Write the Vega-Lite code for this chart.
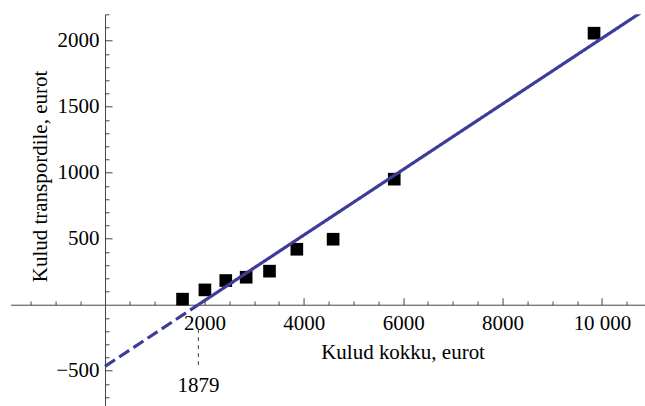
{
  "$schema": "https://vega.github.io/schema/vega-lite/v6.json",
  "width": 634.67,
  "height": 392.04,
  "autosize": "none",
  "padding": {"left": 10.57, "top": 14.3, "right": 0, "bottom": 0},
  "config": {
    "view": {"stroke": null},
    "font": "Liberation Serif",
    "axis": {"grid": false, "labelFlush": false, "labelOverlap": false, "labelBound": false, "tickColor": "#444", "domainColor": "#444", "labelColor": "black", "titleColor": "black", "titleFontWeight": "normal", "labelFont": "Liberation Serif", "titleFont": "Liberation Serif"}
  },
  "layer": [
    {
      "data": {"values": [
        {"kokku": 1560, "transport": 42},
        {"kokku": 2010, "transport": 112},
        {"kokku": 2430, "transport": 183},
        {"kokku": 2840, "transport": 208},
        {"kokku": 3310, "transport": 254},
        {"kokku": 3860, "transport": 420},
        {"kokku": 4590, "transport": 496},
        {"kokku": 5820, "transport": 951},
        {"kokku": 9840, "transport": 2057}
      ]},
      "mark": {"type": "point", "shape": "square", "filled": true, "size": 160, "color": "black", "opacity": 1},
      "encoding": {
        "x": {"field": "kokku", "type": "quantitative",
          "scale": {"domain": [-1900, 10870], "nice": false, "zero": false},
          "axis": {"orient": "bottom", "offset": -101.6, "values": [2000, 4000, 6000, 8000, 10000], "format": "d",
            "labelExpr": "datum.value == 10000 ? '10 000' : datum.label",
            "tickSize": -7, "labelPadding": 14.6, "labelFontSize": 21, "labelFont": "Liberation Serif", "domain": true,
            "title": "Kulud kokku, eurot", "titleFont": "Liberation Serif", "titleFontSize": 21, "titleX": 392, "titleY": 53.3, "titleBaseline": "alphabetic", "titleAlign": "center"}},
        "y": {"field": "transport", "type": "quantitative",
          "scale": {"domain": [-770, 2200], "nice": false, "zero": false},
          "axis": {"orient": "left", "offset": -94.43, "values": [-500, 500, 1000, 1500, 2000], "format": "d",
            "tickSize": -7, "labelPadding": 13, "labelFontSize": 21, "labelFont": "Liberation Serif", "domain": true,
            "title": "Kulud transpordile, eurot", "titleFont": "Liberation Serif", "titleFontSize": 21, "titleX": -59, "titleY": 161.7, "titleAngle": 270, "titleBaseline": "alphabetic", "titleAlign": "center"}}
      }
    },
    {
      "data": {"values": [
        {"x": 0, "y": -467, "seg": "extrapolation"},
        {"x": 1879, "y": 0, "seg": "extrapolation"},
        {"x": 1879, "y": 0, "seg": "fit"},
        {"x": 10870, "y": 2234.6, "seg": "fit"}
      ]},
      "mark": {"type": "line", "clip": true, "strokeWidth": 3.2, "color": "#3d3d99"},
      "encoding": {
        "x": {"field": "x", "type": "quantitative",
          "scale": {"domain": [-1900, 10870], "nice": false, "zero": false},
          "axis": {"orient": "bottom", "offset": -101.6, "values": [-1500, -1000, -500, 500, 1000, 1500, 2500, 3000, 3500, 4500, 5000, 5500, 6500, 7000, 7500, 8500, 9000, 9500, 10500],
            "tickSize": -3.7, "labels": false, "domain": false, "title": null}},
        "y": {"field": "y", "type": "quantitative",
          "scale": {"domain": [-770, 2200], "nice": false, "zero": false},
          "axis": {"orient": "left", "offset": -94.43, "values": [-700, -600, -400, -300, -200, -100, 100, 200, 300, 400, 600, 700, 800, 900, 1100, 1200, 1300, 1400, 1600, 1700, 1800, 1900, 2100, 2200],
            "tickSize": -4, "labels": false, "domain": false, "title": null}},
        "strokeDash": {"field": "seg", "type": "nominal", "scale": {"domain": ["fit", "extrapolation"], "range": [[1, 0], [12, 5]]}, "legend": null}
      }
    },
    {
      "data": {"values": [{"x0": 1879, "label": "1879"}]},
      "mark": {"type": "rule", "strokeDash": [4, 4], "color": "#444", "strokeWidth": 1},
      "encoding": {
        "x": {"field": "x0", "type": "quantitative", "scale": {"domain": [-1900, 10870], "nice": false, "zero": false}, "axis": null},
        "y": {"datum": -185, "type": "quantitative", "scale": {"domain": [-770, 2200], "nice": false, "zero": false}, "axis": null},
        "y2": {"datum": -460}
      }
    },
    {
      "data": {"values": [{"x0": 1879, "label": "1879"}]},
      "mark": {"type": "text", "fontSize": 21, "baseline": "alphabetic", "align": "center", "color": "black", "font": "Liberation Serif"},
      "encoding": {
        "x": {"field": "x0", "type": "quantitative", "scale": {"domain": [-1900, 10870], "nice": false, "zero": false}, "axis": null},
        "y": {"datum": -659, "type": "quantitative", "scale": {"domain": [-770, 2200], "nice": false, "zero": false}, "axis": null},
        "text": {"field": "label"}
      }
    }
  ],
  "resolve": {"axis": {"x": "independent", "y": "independent"}}
}
